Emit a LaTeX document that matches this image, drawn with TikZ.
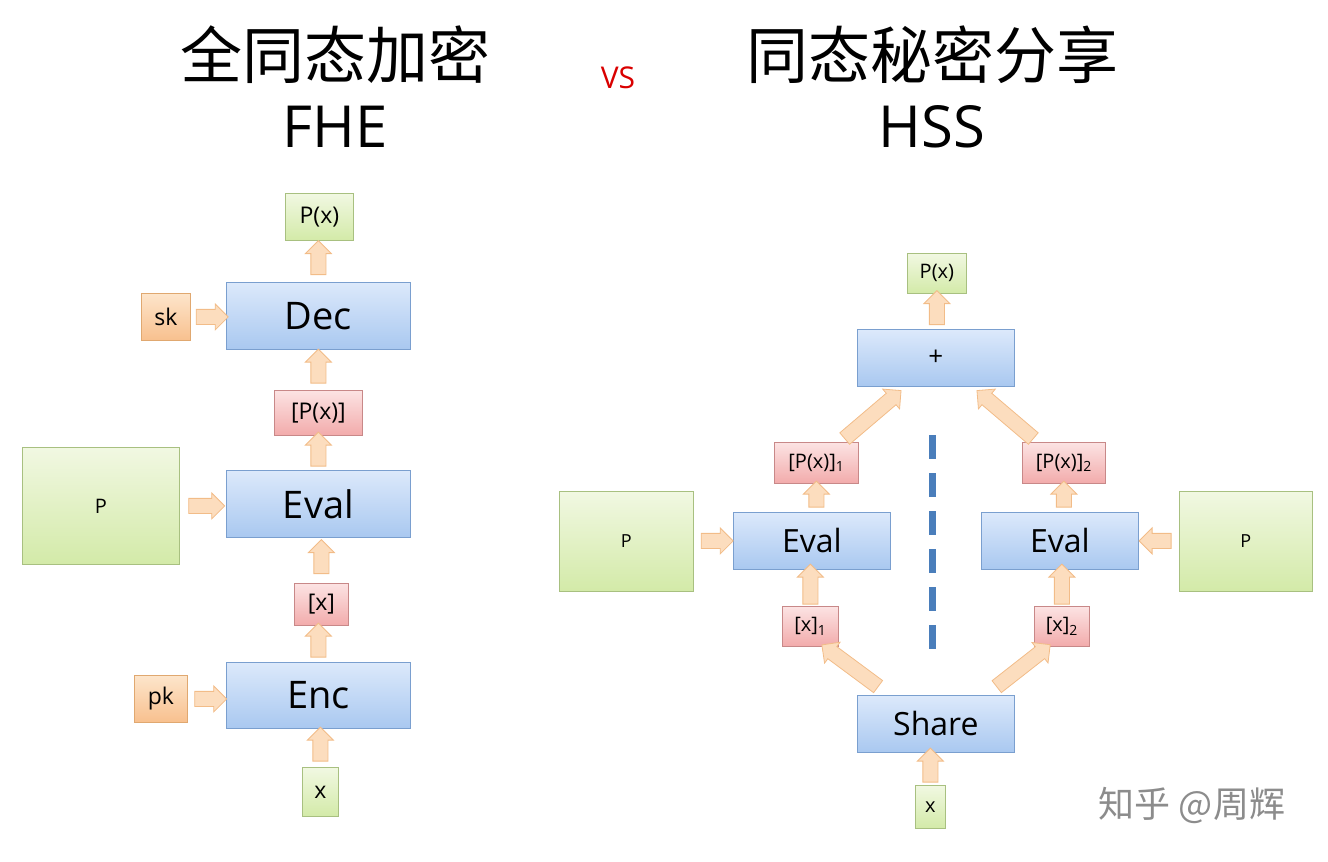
\documentclass[tikz,border=0pt]{standalone}
\usepackage{fontspec}
\setmainfont{Open Sans}
\newfontfamily\cjk{Noto Sans CJK SC}
\usetikzlibrary{shapes.arrows}
\definecolor{bB}{HTML}{7A9FCF}\definecolor{bT}{HTML}{DCE9FB}\definecolor{bD}{HTML}{A9C8F0}
\definecolor{gB}{HTML}{A8C080}\definecolor{gT}{HTML}{F1F8E2}\definecolor{gD}{HTML}{D3EAA8}
\definecolor{rB}{HTML}{C88888}\definecolor{rT}{HTML}{FCE3E3}\definecolor{rD}{HTML}{F2ABAB}
\definecolor{oB}{HTML}{E0A870}\definecolor{oT}{HTML}{FDE5CB}\definecolor{oD}{HTML}{F8C08E}
\definecolor{aB}{HTML}{F2BC88}\definecolor{aF}{HTML}{FCDDBE}
\definecolor{dl}{HTML}{4A7EBB}
\tikzset{
 bx/.style={draw, line width=0.8pt, inner sep=0pt, anchor=north west},
 blue/.style={bx, draw=bB, top color=bT, bottom color=bD},
 green/.style={bx, draw=gB, top color=gT, bottom color=gD},
 red/.style={bx, draw=rB, top color=rT, bottom color=rD},
 orange/.style={bx, draw=oB, top color=oT, bottom color=oD},
 fat/.style={single arrow, draw=aB, fill=aF, line width=0.8pt, minimum width=26pt,
   single arrow head extend=5pt, single arrow tip angle=90, inner xsep=0pt, inner ysep=6.5pt, sloped, allow upside down},
}
\newcommand{\bbox}[7]{\node[#1, minimum width=#4pt, minimum height=#5pt] (#2) at (#3) {\fontsize{#6}{#6}\selectfont #7};}
\begin{document}
\begin{tikzpicture}[x=1pt,y=-1pt]
\useasboundingbox (0,0) rectangle (1328,862);
% titles
\node (t1) at (335,55) {\cjk\fontsize{62}{62}\selectfont 全同态加密};
\node (t2) at (335,127) {\fontsize{58}{58}\selectfont FHE};
\node[text=red!85!black] (vs) at (618,78) {\fontsize{30}{30}\selectfont VS};
\node (t3) at (932,55) {\cjk\fontsize{62}{62}\selectfont 同态秘密分享};
\node (t4) at (932,127) {\fontsize{58}{58}\selectfont HSS};
\node[text=black!45] (wm) at (1192,805) {\cjk\fontsize{36}{36}\selectfont 知乎 @周辉};
% left
\bbox{green}{px}{285,193}{68}{47}{23}{P(x)}
\bbox{blue}{dec}{226,282}{184}{67}{38}{Dec}
\bbox{orange}{sk}{141,293}{49}{47}{23}{sk}
\bbox{red}{ppx}{274,390}{88}{45}{23}{[P(x)]}
\bbox{blue}{eval}{226,470}{184}{67}{38}{Eval}
\bbox{green}{P}{22,447}{157}{117}{20}{P}
\bbox{red}{ex}{294,583}{54}{42}{23}{[x]}
\bbox{blue}{enc}{226,662}{184}{66}{38}{Enc}
\bbox{orange}{pk}{134,675}{53}{47}{23}{pk}
\bbox{green}{x}{302,767}{36}{49}{23}{x}
\path (dec.north) -- node[fat,minimum height=34pt]{} (dec.north |- px.south);
\path (ppx.north) -- node[fat,minimum height=34pt]{} (ppx.north |- dec.south);
\path (eval.north) -- node[fat,minimum height=34pt]{} (eval.north |- ppx.south);
\path (ex.north) -- node[fat,minimum height=34pt]{} (ex.north |- eval.south);
\path (enc.north) -- node[fat,minimum height=34pt]{} (enc.north |- ex.south);
\path (x.north) -- node[fat,minimum height=34pt]{} (x.north |- enc.south);
\path (sk.east) -- node[fat,minimum height=32pt]{} (sk.east -| dec.west);
\path (P.east) -- node[fat,minimum height=36pt]{} (P.east -| eval.west);
\path (pk.east) -- node[fat,minimum height=32pt]{} (pk.east -| enc.west);
% right
\bbox{green}{rpx}{907,253}{59}{40}{20}{P(x)}
\bbox{blue}{plus}{857,329}{157}{57}{26}{+}
\bbox{red}{p1}{774,442}{84}{41}{20}{[P(x)]\textsubscript{1}}
\bbox{red}{p2}{1022,442}{83}{41}{20}{[P(x)]\textsubscript{2}}
\bbox{blue}{e1}{733,512}{157}{57}{32}{Eval}
\bbox{blue}{e2}{981,512}{157}{57}{32}{Eval}
\bbox{green}{P1}{559,491}{134}{100}{18}{P}
\bbox{green}{P2}{1179,491}{133}{100}{18}{P}
\bbox{red}{x1}{782,606}{56}{40}{20}{[x]\textsubscript{1}}
\bbox{red}{x2}{1034,606}{55}{40}{20}{[x]\textsubscript{2}}
\bbox{blue}{share}{857,695}{157}{57}{32}{Share}
\bbox{green}{rx}{915,785}{30}{43}{20}{x}
\draw[draw=dl, line width=7pt, dash pattern=on 24pt off 14pt] (932,435) coordinate (d1) -- (932,659) coordinate (d2);
\path (rpx.south |- plus.north) -- node[fat,minimum height=34pt]{} (rpx.south);
\path (p1.south |- e1.north) -- node[fat,minimum height=26pt]{} (p1.south);
\path (p2.south |- e2.north) -- node[fat,minimum height=26pt]{} (p2.south);
\path (x1.north) -- node[fat,minimum height=40pt]{} (x1.north |- e1.south);
\path (x2.north) -- node[fat,minimum height=40pt]{} (x2.north |- e2.south);
\path (rx.north) -- node[fat,minimum height=34pt]{} (rx.north |- share.south);
\path (P1.east |- e1.west) -- node[fat,minimum height=32pt]{} (e1.west);
\path (P2.west |- e2.east) -- node[fat,minimum height=32pt]{} (e2.east);
\coordinate (a1s) at (843,440); \coordinate (a1e) at (897,394);
\coordinate (a2s) at (1035,440); \coordinate (a2e) at (981,394);
\coordinate (b1s) at (880,688); \coordinate (b1e) at (826,648);
\coordinate (b2s) at (995,688); \coordinate (b2e) at (1046,648);
\path (a1s) -- node[fat,minimum height=74pt]{} (a1e);
\path (a2s) -- node[fat,minimum height=74pt]{} (a2e);
\path (b1s) -- node[fat,minimum height=70pt]{} (b1e);
\path (b2s) -- node[fat,minimum height=68pt]{} (b2e);
\end{tikzpicture}
\end{document}
